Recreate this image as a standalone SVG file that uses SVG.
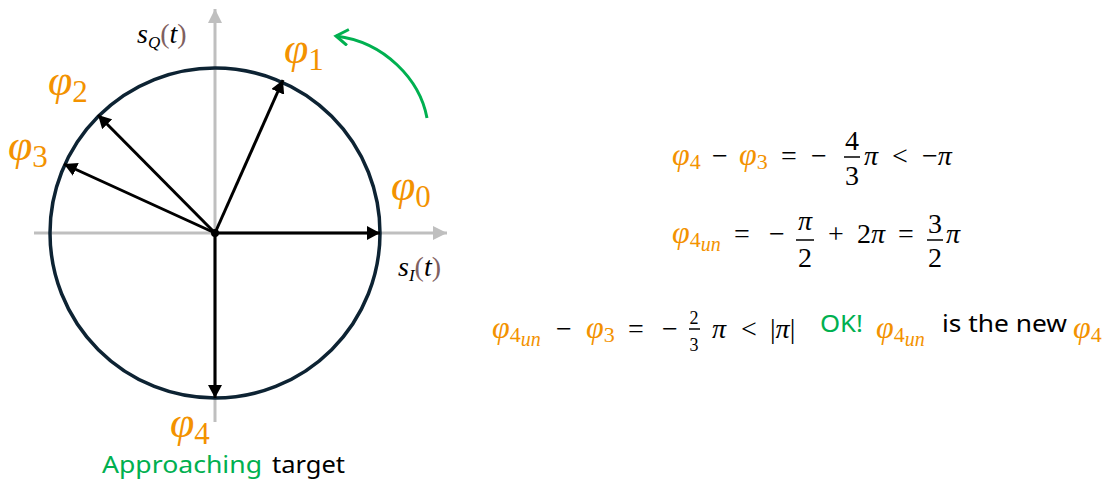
<svg xmlns="http://www.w3.org/2000/svg" width="1110" height="481" viewBox="0 0 1110 481">
<style>
.ax{stroke:#bfbfbf;stroke-width:3;fill:none}
.vec{stroke:#000;stroke-width:3;fill:none}
.m{font-family:"Liberation Serif","DejaVu Serif",serif;fill:#000}
.phi{font-family:"Liberation Serif","DejaVu Serif",serif;font-style:italic;fill:#f39200}
.sub{font-style:normal;fill:#f39200}
.it{font-style:italic}
.s{font-family:"Noto Sans","Liberation Sans",sans-serif}
.gr{fill:#00b050}
.bar{stroke:#000;stroke-width:1.5}
</style>
<defs>
<marker id="ah" markerUnits="userSpaceOnUse" markerWidth="14" markerHeight="14" refX="13" refY="7" orient="auto"><path d="M0,0 L13,7 L0,14 Z" fill="#000"/></marker>
<marker id="ag" markerUnits="userSpaceOnUse" markerWidth="15" markerHeight="14" refX="14" refY="7" orient="auto"><path d="M0,0 L14,7 L0,14 Z" fill="#bfbfbf"/></marker>
<marker id="agr" markerUnits="userSpaceOnUse" markerWidth="16" markerHeight="18" refX="13" refY="9" orient="auto"><path d="M1,1 L13,9 L1,17" fill="none" stroke="#00b050" stroke-width="3"/></marker>
</defs>
<g id="axes">
<line class="ax" x1="34" y1="233" x2="447" y2="233" marker-end="url(#ag)"/>
<line class="ax" x1="215" y1="422" x2="215" y2="9" marker-end="url(#ag)"/>
</g>
<g id="circle"><circle cx="215" cy="233" r="165" fill="none" stroke="#0d2333" stroke-width="3.5"/></g>
<g id="connectors">
<line class="vec" x1="215" y1="233" x2="380" y2="233" marker-end="url(#ah)"/>
<line class="vec" x1="215" y1="233" x2="283" y2="80" marker-end="url(#ah)"/>
<line class="vec" x1="215" y1="233" x2="98" y2="115" marker-end="url(#ah)"/>
<line class="vec" x1="215" y1="233" x2="64" y2="164" marker-end="url(#ah)"/>
<line class="vec" x1="215" y1="233" x2="215" y2="398" marker-end="url(#ah)"/>
<circle cx="215" cy="233" r="4" fill="#000"/>
<path d="M427,118 C420,80 385,42 336,36" fill="none" stroke="#00b050" stroke-width="3" marker-end="url(#agr)"/>
</g>
<g id="labels">
<text x="284" y="63" class="phi" font-size="44">φ<tspan class="sub" font-size="31" dy="7">1</tspan></text>
<text x="391" y="200" class="phi" font-size="44">φ<tspan class="sub" font-size="31" dy="7">0</tspan></text>
<text x="48" y="95" class="phi" font-size="44">φ<tspan class="sub" font-size="31" dy="7">2</tspan></text>
<text x="8" y="160" class="phi" font-size="44">φ<tspan class="sub" font-size="31" dy="7">3</tspan></text>
<text x="170" y="437" class="phi" font-size="44">φ<tspan class="sub" font-size="31" dy="7">4</tspan></text>
<text x="137" y="43" class="m it" font-size="28">s<tspan font-size="17" dy="5">Q</tspan><tspan dy="-5" font-style="normal" fill="#7f6060">(</tspan>t<tspan font-style="normal" fill="#7f6060">)</tspan></text>
<text x="398" y="276" class="m it" font-size="28">s<tspan font-size="17" dy="5">I</tspan><tspan dy="-5" font-style="normal" fill="#7f6060">(</tspan>t<tspan font-style="normal" fill="#7f6060">)</tspan></text>
<text x="102" y="473" class="s gr" font-size="23" textLength="160" lengthAdjust="spacingAndGlyphs">Approaching</text>
<text x="272" y="473" class="s" font-size="23" textLength="73" lengthAdjust="spacingAndGlyphs">target</text>
</g>
<g id="eq1" class="m" font-size="28">
<text x="672" y="165" class="phi" font-size="32">φ<tspan class="sub" font-size="22" dy="4">4</tspan></text>
<text x="712" y="165">−</text>
<text x="739" y="165" class="phi" font-size="32">φ<tspan class="sub" font-size="22" dy="4">3</tspan></text>
<text x="781" y="165">=</text>
<text x="811" y="165">−</text>
<text text-anchor="middle"><tspan x="852" y="150">4</tspan><tspan x="852" y="185">3</tspan></text>
<line class="bar" x1="844" y1="157" x2="860" y2="157"/>
<text x="864" y="165" class="it">π</text>
<text x="892" y="165">&lt;</text>
<text x="922" y="165">−<tspan class="it">π</tspan></text>
</g>
<g id="eq2" class="m" font-size="28">
<text x="672" y="243" class="phi" font-size="32">φ<tspan class="sub" font-size="22" dy="4">4</tspan><tspan class="phi" font-size="20" dy="4">un</tspan></text>
<text x="734" y="243">=</text>
<text x="769" y="243">−</text>
<text text-anchor="middle"><tspan x="805" y="230" class="it">π</tspan><tspan x="805" y="267">2</tspan></text>
<line class="bar" x1="796" y1="240" x2="814" y2="240"/>
<text x="828" y="243">+</text>
<text x="857" y="243">2<tspan class="it">π</tspan></text>
<text x="898" y="243">=</text>
<text text-anchor="middle"><tspan x="935" y="233">3</tspan><tspan x="935" y="267">2</tspan></text>
<line class="bar" x1="927" y1="240" x2="943" y2="240"/>
<text x="946" y="243" class="it">π</text>
</g>
<g id="eq3" class="m" font-size="28">
<text x="492" y="338" class="phi" font-size="32">φ<tspan class="sub" font-size="22" dy="4">4</tspan><tspan class="phi" font-size="20" dy="4">un</tspan></text>
<text x="556" y="338">−</text>
<text x="586" y="338" class="phi" font-size="32">φ<tspan class="sub" font-size="22" dy="4">3</tspan></text>
<text x="628" y="338">=</text>
<text x="662" y="338">−</text>
<text text-anchor="middle" font-size="18"><tspan x="694" y="324">2</tspan><tspan x="694" y="351">3</tspan></text>
<line class="bar" x1="689" y1="329" x2="700" y2="329" stroke-width="1"/>
<text x="712" y="338" class="it">π</text>
<text x="741" y="338">&lt;</text>
<text x="770" y="338">|<tspan class="it">π</tspan>|</text>
<text x="820" y="332" class="s gr" font-size="23" textLength="43" lengthAdjust="spacingAndGlyphs">OK!</text>
<text x="876" y="338" class="phi" font-size="32">φ<tspan class="sub" font-size="22" dy="4">4</tspan><tspan class="phi" font-size="20" dy="4">un</tspan></text>
<text x="942" y="332" class="s" font-size="23" textLength="125" lengthAdjust="spacingAndGlyphs">is the new</text>
<text x="1073" y="338" class="phi" font-size="32">φ<tspan class="sub" font-size="22" dy="4">4</tspan></text>
</g>
</svg>
